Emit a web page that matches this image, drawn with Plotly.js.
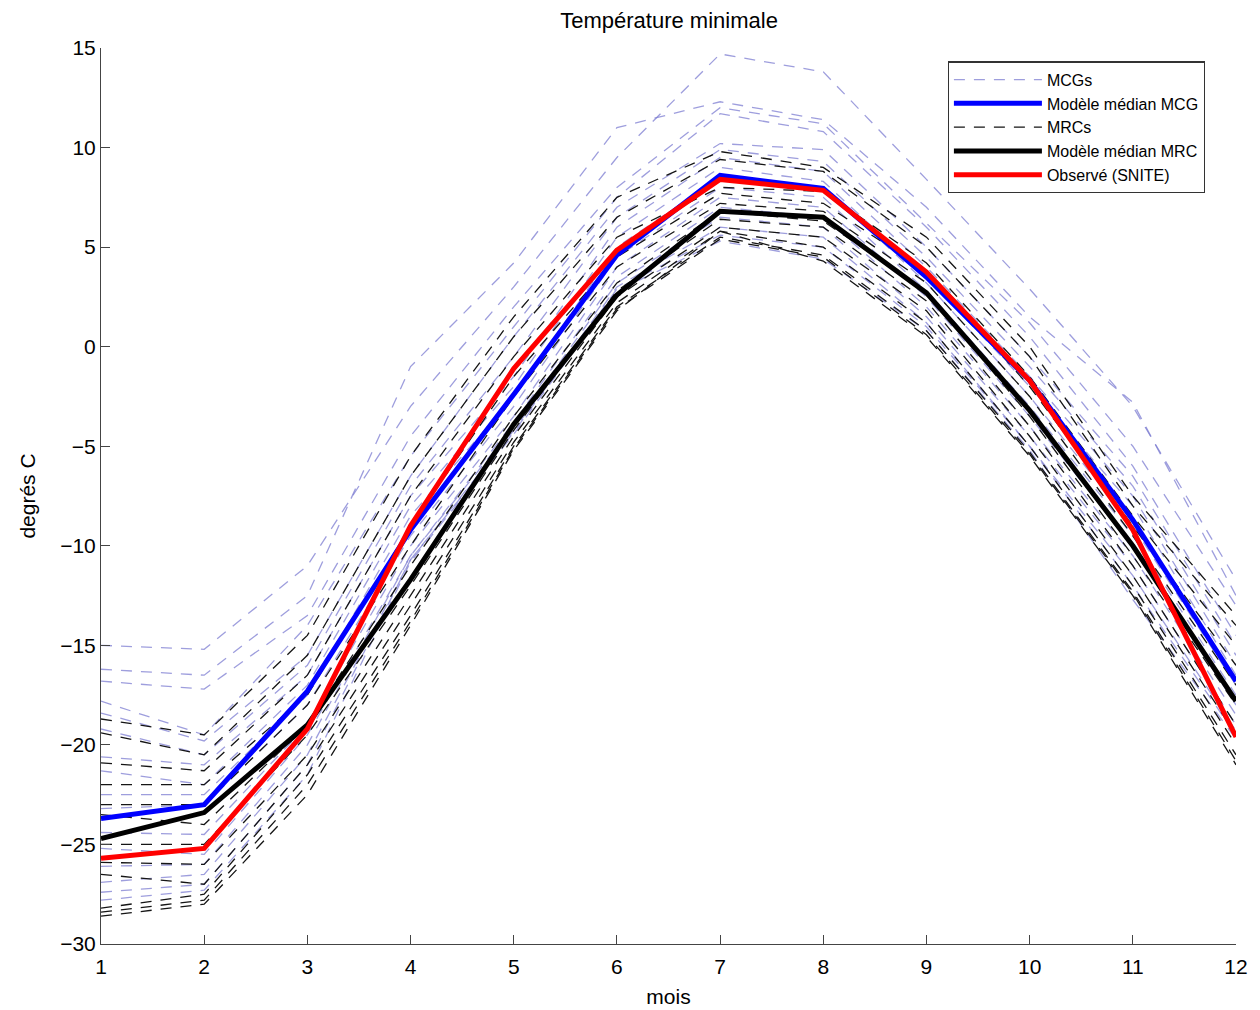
<!DOCTYPE html>
<html>
<head>
<meta charset="utf-8">
<script src="https://cdn.plot.ly/plotly-3.0.1.min.js"></script>
<style>html,body{margin:0;padding:0;background:#fff;}#chart{width:1260px;height:1010px;}</style>
</head>
<body>
<div id="chart"></div>
<script>
const months = [1,2,3,4,5,6,7,8,9,10,11,12];
const xTickLabels = ["1","2","3","4","5","6","7","8","9","10","11","12"];

// MCG ensemble members (global models)
const mcg01 = [-15.0,-15.2,-11.0,-3.0,3.0,9.5,14.7,13.8,8.4,2.9,-3.0,-11.7];
const mcg02 = [-16.2,-16.5,-12.5,-1.0,4.2,11.0,12.3,11.4,7.0,1.5,-2.8,-12.5];
const mcg03 = [-16.8,-17.2,-13.5,-4.5,2.0,8.0,12.0,11.2,6.2,1.2,-5.0,-13.0];
const mcg04 = [-17.8,-19.5,-14.0,-5.5,1.0,7.5,11.7,10.8,6.0,0.5,-6.0,-14.5];
const mcg05 = [-18.4,-19.8,-15.5,-6.5,0.5,7.0,10.2,9.9,5.0,-0.5,-6.5,-15.0];
const mcg06 = [-19.2,-20.5,-16.0,-7.0,-0.5,6.5,9.9,9.3,4.5,-1.0,-7.0,-15.5];
const mcg07 = [-20.6,-21.0,-16.5,-7.5,-1.5,6.0,9.5,8.8,4.0,-1.5,-7.5,-16.0];
const mcg08 = [-21.3,-22.0,-17.0,-8.0,-2.0,5.5,9.0,8.3,3.5,-2.0,-8.0,-16.5];
const mcg09 = [-22.5,-22.5,-17.5,-8.5,-2.5,5.0,8.5,8.0,3.2,-2.5,-9.0,-17.0];
const mcg10 = [-23.2,-23.0,-18.0,-9.5,-3.0,4.5,8.0,7.5,2.8,-3.0,-9.5,-17.5];
const mcg11 = [-24.4,-24.5,-19.0,-10.0,-3.5,4.0,7.5,7.0,2.5,-3.5,-10.0,-18.0];
const mcg12 = [-25.2,-25.5,-19.5,-10.5,-3.8,3.5,7.0,6.5,2.0,-4.0,-10.5,-18.5];
const mcg13 = [-26.1,-26.0,-20.0,-10.5,-4.0,3.2,6.5,6.0,1.5,-4.5,-11.0,-19.0];
const mcg14 = [-26.9,-26.5,-20.5,-10.7,-4.2,3.0,6.0,5.5,1.2,-5.0,-11.5,-19.3];
const mcg15 = [-27.4,-27.0,-21.0,-10.7,-4.3,2.9,5.6,5.0,1.0,-5.0,-12.0,-19.5];
const mcg16 = [-27.8,-27.3,-21.5,-10.8,-4.4,2.8,5.3,4.4,0.8,-5.2,-12.7,-19.7];

// MRC ensemble members (regional models)
const mrc01 = [-18.7,-19.5,-14.5,-5.5,1.5,7.5,9.8,9.0,5.5,0.0,-7.5,-13.5];
const mrc02 = [-19.4,-20.5,-15.5,-6.5,0.5,6.5,9.4,8.8,5.0,-0.5,-8.0,-14.0];
const mrc03 = [-20.9,-21.3,-16.5,-7.5,-0.5,5.5,8.0,7.8,4.2,-1.5,-8.5,-15.0];
const mrc04 = [-22.0,-22.0,-17.5,-9.0,-1.5,4.5,7.7,7.2,3.8,-2.0,-9.0,-16.0];
const mrc05 = [-23.0,-23.0,-18.0,-10.0,-2.5,4.0,7.2,6.8,3.2,-2.5,-9.5,-17.0];
const mrc06 = [-23.5,-24.0,-19.0,-11.0,-3.5,3.2,6.8,6.3,2.8,-3.5,-10.5,-18.0];
const mrc07 = [-25.0,-25.0,-19.5,-12.0,-4.2,2.8,6.4,6.0,2.3,-4.0,-11.0,-19.0];
const mrc08 = [-25.9,-26.0,-20.5,-12.5,-4.5,2.5,6.0,5.5,1.8,-4.5,-11.5,-19.5];
const mrc09 = [-26.5,-27.0,-21.0,-13.0,-4.8,2.2,5.8,5.0,1.2,-5.0,-12.0,-20.0];
const mrc10 = [-28.2,-27.5,-21.5,-13.5,-5.0,2.0,5.5,4.6,0.8,-5.3,-12.3,-20.5];
const mrc11 = [-28.4,-27.8,-22.0,-13.8,-5.1,1.9,5.4,4.5,0.6,-5.4,-12.4,-20.8];
const mrc12 = [-28.6,-28.0,-22.5,-14.0,-5.2,1.8,5.8,4.3,0.5,-5.5,-12.5,-21.0];

// Medians and observations
const medianMCG = [-23.7,-23.0,-17.3,-9.2,-2.4,4.6,8.6,7.95,3.5,-1.7,-8.7,-16.8];
const medianMRC = [-24.7,-23.4,-19.0,-11.7,-3.9,2.6,6.8,6.5,2.7,-3.2,-10.0,-17.8];
const observed  = [-25.7,-25.2,-19.2,-9.0,-1.1,4.85,8.4,7.85,3.75,-1.7,-9.2,-19.6];

const mcgSeries = [mcg01,mcg02,mcg03,mcg04,mcg05,mcg06,mcg07,mcg08,mcg09,mcg10,mcg11,mcg12,mcg13,mcg14,mcg15,mcg16];
const mrcSeries = [mrc01,mrc02,mrc03,mrc04,mrc05,mrc06,mrc07,mrc08,mrc09,mrc10,mrc11,mrc12];

const traces = [];
mcgSeries.forEach((s,i)=>{
  traces.push({x:months,y:s,type:'scatter',mode:'lines',name:'MCGs',legendgroup:'mcg',
    showlegend:i===0,legendrank:1,hoverinfo:'skip',
    line:{color:'rgba(125,125,210,0.75)',width:1.3,dash:'11px,9px'}});
});
mrcSeries.forEach((s,i)=>{
  traces.push({x:months,y:s,type:'scatter',mode:'lines',name:'MRCs',legendgroup:'mrc',
    showlegend:i===0,legendrank:3,hoverinfo:'skip',
    line:{color:'#151515',width:1.3,dash:'11px,9px'}});
});
traces.push({x:months,y:medianMCG,type:'scatter',mode:'lines',name:'Modèle médian MCG',legendrank:2,line:{color:'#0000ff',width:5}});
traces.push({x:months,y:medianMRC,type:'scatter',mode:'lines',name:'Modèle médian MRC',legendrank:4,line:{color:'#000000',width:5}});
traces.push({x:months,y:observed,type:'scatter',mode:'lines',name:'Observé (SNITE)',legendrank:5,line:{color:'#ff0000',width:5}});

const fontFam = 'Liberation Sans, Arial, sans-serif';
const layout = {
  width:1260,height:1010,
  margin:{l:101,r:24,t:48,b:66},
  paper_bgcolor:'#fff',plot_bgcolor:'#fff',
  font:{family:fontFam,color:'#000',size:20},
  title:{text:'Température minimale',x:0.531,xanchor:'center',y:0.98,yanchor:'middle',font:{family:fontFam,size:22,color:'#000'}},
  showlegend:true,
  legend:{x:0.746,xanchor:'left',y:0.985,yanchor:'top',bgcolor:'#fff',bordercolor:'#333',borderwidth:1.2,
    font:{family:fontFam,size:16,color:'#000'},itemwidth:88,tracegroupgap:0,traceorder:'normal'},
  xaxis:{range:[1,12],tickvals:months,ticktext:xTickLabels,showgrid:false,zeroline:false,
    showline:true,linecolor:'#444',linewidth:1,ticks:'inside',ticklen:9,tickcolor:'#444',
    tickfont:{family:fontFam,size:21,color:'#000'},ticklabelstandoff:4,
    title:{text:'mois',font:{family:fontFam,size:21,color:'#000'},standoff:12}},
  yaxis:{range:[-30,15],tickvals:[-30,-25,-20,-15,-10,-5,0,5,10,15],
    ticktext:['−30','−25','−20','−15','−10','−5','0','5','10','15'],
    showgrid:false,zeroline:false,
    showline:true,linecolor:'#444',linewidth:1,ticks:'inside',ticklen:9,tickcolor:'#444',
    tickfont:{family:fontFam,size:21,color:'#000'},
    title:{text:'degrés C',font:{family:fontFam,size:21,color:'#000'},standoff:18}}
};
Plotly.newPlot('chart',traces,layout,{displayModeBar:false,staticPlot:true});
</script>
</body>
</html>
